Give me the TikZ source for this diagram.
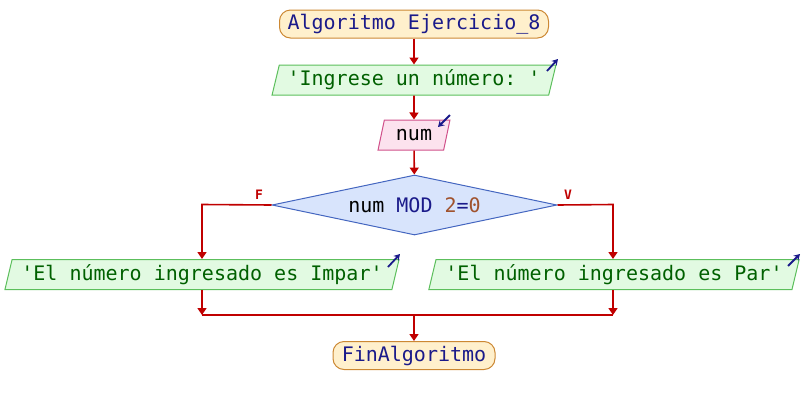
\documentclass[tikz,border=0pt]{standalone}
\usepackage{fontspec}
\setmonofont{DejaVu Sans Mono}
\usetikzlibrary{shapes.geometric,arrows.meta,calc}
\definecolor{flowred}{HTML}{C00000}
\definecolor{termfill}{HTML}{FFF0CC}
\definecolor{termdraw}{HTML}{CC8833}
\definecolor{outfill}{HTML}{E2FAE2}
\definecolor{outdraw}{HTML}{5CBF5C}
\definecolor{outtext}{HTML}{006000}
\definecolor{infill}{HTML}{FCE2EE}
\definecolor{indraw}{HTML}{D0508A}
\definecolor{condfill}{HTML}{D8E4FC}
\definecolor{conddraw}{HTML}{4466C0}
\definecolor{kwblue}{HTML}{1A1A8A}
\definecolor{numbrown}{HTML}{A0522D}
\tikzset{
  x=1pt, y=-1pt,
  every node/.style={font=\ttfamily\fontsize{20}{20}\selectfont, inner sep=0pt},
  terminal/.style={rounded corners=11pt, draw=termdraw, line width=1pt, fill=termfill, minimum height=28, text=kwblue},
  outbox/.style={trapezium, trapezium left angle=71.5, trapezium right angle=108.5, trapezium stretches=true,
    draw=outdraw, line width=1pt, fill=outfill, minimum height=30, text=outtext},
  inbox/.style={trapezium, trapezium left angle=71.5, trapezium right angle=108.5, trapezium stretches=true,
    draw=indraw, line width=1pt, fill=infill, minimum height=30, text=black},
  condbox/.style={diamond, aspect=4.75, draw=conddraw, line width=1pt, fill=condfill, minimum width=285, minimum height=60},
  flow/.style={draw=flowred, line width=1.6pt, -{Triangle[length=7pt,width=9pt]}},
  flowline/.style={draw=flowred, line width=1.6pt},
  ioarrow/.style={draw=kwblue, line width=1.8pt, -{Stealth[length=6pt,width=7pt]}},
  branch/.style={text=flowred, font=\ttfamily\bfseries\fontsize{13}{13}\selectfont},
}
\begin{document}
\begin{tikzpicture}
\useasboundingbox (0,0) rectangle (804,405);

% blocks of the flowchart
\node[terminal, minimum width=269] (start) at (414,24) {Algoritmo Ejercicio\_8};
\node[outbox, minimum width=285] (ask) at (414,80) {'Ingrese un número: '};
\node[inbox, minimum width=72] (read) at (414,135) {num};
\node[condbox] (cond) at (414.5,205) {num \textcolor{kwblue}{MOD} \textcolor{numbrown}{2}\textcolor{kwblue}{=}\textcolor{numbrown}{0}};
\node[outbox, minimum width=396] (odd) at (202,274.5) {'El número ingresado es Impar'};
\node[outbox, minimum width=372] (even) at (614,274.5) {'El número ingresado es Par'};
\node[terminal, minimum width=162] (stop) at (414,355.5) {FinAlgoritmo};

% branch labels
\node[branch] (flab) at (259,195) {F};
\node[branch] (vlab) at (568,195) {V};

% routing points
\coordinate (lcorner) at (202,204.5);
\coordinate (rcorner) at (613,204.5);
\coordinate (ljoin) at (202,315);
\coordinate (rjoin) at (613,315);
\coordinate (mjoin) at (414,315);

% connectors
\draw[flow] (start) -- (ask);
\draw[flow] (ask) -- (read);
\draw[flow] (read) -- (cond);
\draw[flow] (cond.west) -- (lcorner) -- (lcorner |- odd.north);
\draw[flow] (cond.east) -- (rcorner) -- (rcorner |- even.north);
\draw[flow] (odd.south -| ljoin) -- (ljoin);
\draw[flow] (even.south -| rjoin) -- (rjoin);
\draw[flowline] (ljoin) -- (rjoin);
\draw[flow] (mjoin) -- (stop);

% input/output markers
\coordinate (a1) at (547,71); \coordinate (a2) at (558,59);
\draw[ioarrow] (a1) -- (a2);
\coordinate (b1) at (450,115); \coordinate (b2) at (438,127);
\draw[ioarrow] (b1) -- (b2);
\coordinate (c1) at (388,267); \coordinate (c2) at (400,254);
\draw[ioarrow] (c1) -- (c2);
\coordinate (d1) at (788,266); \coordinate (d2) at (800,254);
\draw[ioarrow] (d1) -- (d2);
\end{tikzpicture}
\end{document}
